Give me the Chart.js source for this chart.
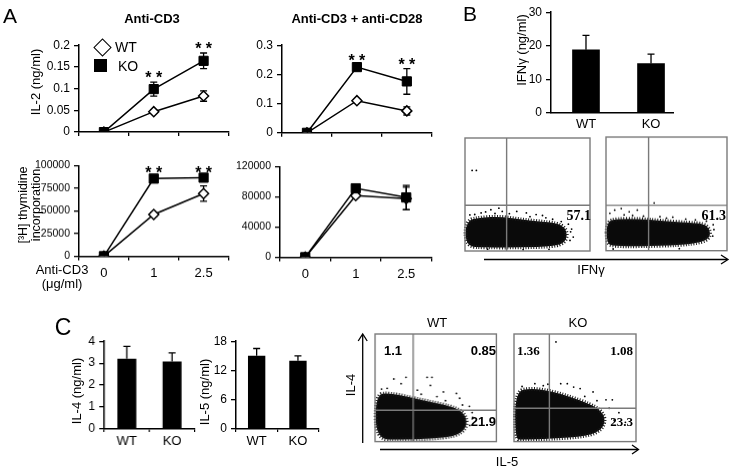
<!DOCTYPE html>
<html><head><meta charset="utf-8">
<script src="https://cdn.jsdelivr.net/npm/chart.js@4.4.1/dist/chart.umd.min.js"></script>
<style>
html,body{margin:0;padding:0;background:#fff;}
body{width:733px;height:468px;position:relative;overflow:hidden;font-family:"Liberation Sans",Arial,sans-serif;color:#000;}
.box{position:absolute;}
.t{position:absolute;transform:translate(-50%,-50%);white-space:nowrap;line-height:1;}
.tr{position:absolute;transform:translate(-100%,-50%);white-space:nowrap;line-height:1;}
.tl{position:absolute;transform:translate(0,-50%);white-space:nowrap;line-height:1;}
.r{position:absolute;transform:translate(-50%,-50%) rotate(-90deg);white-space:nowrap;line-height:1;}
.b{font-weight:bold;}
.serif{font-family:"Liberation Serif","Times New Roman",serif;font-weight:bold;}
</style></head><body>
<div id="charts"></div>
<svg width="733" height="468" style="position:absolute;left:0;top:0" fill="none" stroke="#000" stroke-width="1.3">
  <line x1="484" y1="259.5" x2="727" y2="259.5"/>
  <polyline points="721,255 728,259.5 721,264"/>
  <line x1="362.7" y1="443" x2="362.7" y2="335"/>
  <polyline points="358.2,341 362.7,334 367.2,341"/>
  <line x1="380" y1="449.5" x2="638" y2="449.5"/>
  <polyline points="632,445 638.5,449.5 632,454"/>
</svg>
<!-- Panel A texts -->
<div class="t" style="left:10px;top:15px;font-size:21px">A</div>
<div class="t b" style="left:152px;top:18px;font-size:13px">Anti-CD3</div>
<div class="t b" style="left:357px;top:18px;font-size:13px">Anti-CD3 + anti-CD28</div>
<div class="r" style="left:35px;top:82px;font-size:13px">IL-2 (ng/ml)</div>
<div style="position:absolute;left:96px;top:41px;width:11px;height:11px;border:1.5px solid #000;transform:rotate(45deg);background:#fff"></div>
<div class="tl" style="left:115px;top:47px;font-size:14px">WT</div>
<div style="position:absolute;left:94px;top:59px;width:13px;height:13px;background:#000"></div>
<div class="tl" style="left:118px;top:66px;font-size:14px">KO</div>
<div class="r" style="left:23px;top:205px;font-size:12.5px">[³H] thymidine</div>
<div class="r" style="left:36px;top:205px;font-size:12.5px">incorporation</div>
<div class="t" style="left:62px;top:269px;font-size:13px">Anti-CD3</div>
<div class="t" style="left:62px;top:283px;font-size:13px">(μg/ml)</div>
<!-- Panel B texts -->
<div class="t" style="left:470px;top:13px;font-size:21px">B</div>
<div class="r" style="left:521px;top:50px;font-size:13px">IFNγ (ng/ml)</div>
<div class="tr serif" style="left:591px;top:216px;font-size:14px">57.1</div>
<div class="tr serif" style="left:726px;top:216px;font-size:14px">61.3</div>
<div class="t" style="left:591px;top:269px;font-size:13px">IFNγ</div>
<!-- Panel C texts -->
<div class="t" style="left:63px;top:327px;font-size:23px">C</div>
<div class="r" style="left:76px;top:391px;font-size:13px">IL-4 (ng/ml)</div>
<div class="r" style="left:204px;top:392px;font-size:13px">IL-5 (ng/ml)</div>
<div class="t" style="left:437px;top:322px;font-size:13px">WT</div>
<div class="t" style="left:578px;top:322px;font-size:13px">KO</div>
<div class="r" style="left:350px;top:385px;font-size:13px">IL-4</div>
<div class="t" style="left:507px;top:461px;font-size:13px">IL-5</div>
<div class="t b" style="left:393px;top:350px;font-size:13px">1.1</div>
<div class="tr b" style="left:496px;top:350px;font-size:13px">0.85</div>
<div class="tr b" style="left:496px;top:421px;font-size:13px">21.9</div>
<div class="tl serif" style="left:517px;top:350px;font-size:13px">1.36</div>
<div class="tr serif" style="left:633px;top:350px;font-size:13px">1.08</div>
<div class="tr serif" style="left:633px;top:421px;font-size:13px">23.3</div>
<script>
// ---------- DATA ----------
const doseCats = ['0', '1', '2.5'];
const il2Cd3Ticks = [0, 0.05, 0.1, 0.15, 0.2];
const il2Cd28Ticks = [0, 0.1, 0.2, 0.3];
const thyCd3Ticks = [0, 25000, 50000, 75000, 100000];
const thyCd28Ticks = [0, 40000, 80000, 120000];

const il2Cd3WT = [0, 0.047, 0.083];
const il2Cd3WTErr = [0, 0.004, 0.012];
const il2Cd3KO = [0, 0.099, 0.164];
const il2Cd3KOErr = [0, 0.016, 0.018];
const il2Cd3Sig = ['', '**', '**'];

const il2Cd28WT = [0, 0.11, 0.075];
const il2Cd28WTErr = [0, 0.004, 0.014];
const il2Cd28KO = [0, 0.225, 0.176];
const il2Cd28KOErr = [0, 0.006, 0.044];
const il2Cd28Sig = ['', '**', '**'];

const thyCd3WT = [0, 46000, 69000];
const thyCd3WTErr = [0, 2500, 8500];
const thyCd3KO = [0, 85500, 86500];
const thyCd3KOErr = [0, 1500, 1000];
const thyCd3Sig = ['', '**', '**'];

const thyCd28WT = [0, 81500, 77500];
const thyCd28WTErr = [0, 2000, 15000];
const thyCd28KO = [0, 91000, 79000];
const thyCd28KOErr = [0, 1500, 16000];

const groups = ['WT', 'KO'];
const ifngTicks = [0, 10, 20, 30];
const ifngVals = [18.8, 14.7];
const ifngErr = [4.3, 2.8];
const il4Ticks = [0, 1, 2, 3, 4];
const il4Vals = [3.2, 3.07];
const il4Err = [0.56, 0.4];
const il5Ticks = [0, 6, 12, 18];
const il5Vals = [15.0, 14.0];
const il5Err = [1.5, 1.0];

// flow cytometry plots (arbitrary 0-100 units): gate positions, dense-cloud outlines, sparse events
const ifngWTGate = [33.3, 40.5];
const ifngWTCloud = [[0.5,27.1],[12.9,29.7],[28.4,30.5],[44.0,27.9],[59.5,26.2],[73.4,24.5],[79.6,21.1],[81.9,14.3],[79.6,7.4],[71.1,4.0],[44.0,3.2],[16.8,3.2],[0.5,4.0]];
const ifngWTDots = [[20.7,36.5],[27.1,37.9],[29.8,35.0],[41.4,35.0],[49.1,33.7],[56.9,32.2],[62.0,31.4],[64.7,29.4],[82.7,23.7],[85.3,19.4],[86.6,12.3],[84.0,9.4],[3.9,31.9],[12.9,33.7],[7.8,32.3],[18.1,1.6],[46.5,1.1],[67.2,1.5],[5.7,71.3],[9.1,71.3],[16.5,34.6],[24.0,33.2],[35.5,33.0],[52.0,30.4],[70.1,28.1],[77.0,26.0],[84.5,17.0]];
const ifngKOGate = [35.2, 40.0];
const ifngKOCloud = [[0.6,25.4],[8.6,28.0],[28.6,28.0],[44.6,26.3],[68.6,24.6],[80.6,23.7],[85.4,19.5],[86.2,12.6],[80.6,7.5],[60.6,4.9],[28.6,4.0],[6.2,4.0],[0.6,6.6]];
const ifngKODots = [[7.2,35.7],[12.6,37.2],[19.2,34.3],[25.9,35.7],[39.8,42.0],[44.6,30.0],[55.2,29.5],[65.9,27.8],[73.9,27.2],[88.6,22.9],[89.2,18.6],[88.2,12.9],[3.2,32.9],[60.6,1.8],[5.9,1.5],[15.0,31.5],[22.0,31.0],[31.0,30.4],[50.0,28.6],[83.0,26.0]];
const il45WTGate = [31.4, 29.2];
const il45WTCloud = [[0.6,44.0],[12.0,45.0],[29.5,41.0],[45.5,37.0],[61.7,33.0],[70.5,29.0],[75.5,22.0],[75.0,12.0],[66.0,5.0],[45.5,2.5],[21.4,2.0],[0.6,2.0]];
const il45WTDots = [[15.5,58.2],[25.5,59.7],[42.9,59.7],[46.9,59.7],[21.5,53.8],[45.6,52.2],[56.3,46.2],[67.0,44.8],[69.7,40.3],[51.0,41.8],[77.7,32.8],[80.4,22.4],[5.4,48.8],[34.9,47.8],[10.0,49.5],[38.0,44.0],[58.0,38.0],[72.0,34.0],[80.0,27.0],[78.0,15.0]];
const il45KOGate = [29.0, 31.0];
const il45KOCloud = [[1.0,47.0],[14.5,49.5],[30.4,47.0],[46.3,41.5],[62.1,35.0],[71.0,29.0],[75.0,21.0],[72.0,11.0],[60.0,5.0],[30.4,2.5],[6.6,2.0],[1.0,2.0]];
const il45KODots = [[34.4,92.6],[38.3,53.8],[43.7,53.8],[48.9,50.7],[54.2,49.3],[64.8,46.2],[75.4,38.8],[80.6,38.8],[86.0,26.9],[27.8,53.3],[17.1,53.8],[6.6,51.2],[91.3,17.9],[58.0,42.0],[68.0,38.0],[78.0,31.0],[82.0,20.0],[24.0,52.0]];

// ---------- HELPERS ----------
Chart.defaults.font.family = "'Liberation Sans', Arial, sans-serif";
Chart.defaults.color = '#000';
Chart.defaults.animation = false;

function val(d){ return (d !== null && typeof d === 'object') ? d.y : d; }

function drawErr(chart, mode){
  const ctx = chart.ctx, ys = chart.scales.y;
  chart.data.datasets.forEach((ds, i) => {
    if (!ds.errors) return;
    const meta = chart.getDatasetMeta(i);
    ctx.save(); ctx.strokeStyle = '#000'; ctx.lineWidth = 1.3;
    ds.data.forEach((d, j) => {
      const e = ds.errors[j]; if (!e) return;
      const v = val(d), x = meta.data[j].x;
      const yt = ys.getPixelForValue(v + e);
      const yb = mode === 'up' ? ys.getPixelForValue(v) : ys.getPixelForValue(v - e);
      const c = 3.5;
      ctx.beginPath();
      ctx.moveTo(x, yt); ctx.lineTo(x, yb);
      ctx.moveTo(x - c, yt); ctx.lineTo(x + c, yt);
      if (mode !== 'up') { ctx.moveTo(x - c, yb); ctx.lineTo(x + c, yb); }
      ctx.stroke();
    });
    ctx.restore();
  });
}
function drawStars(chart){
  const ctx = chart.ctx, ys = chart.scales.y;
  chart.data.datasets.forEach((ds, i) => {
    if (!ds.sig) return;
    const meta = chart.getDatasetMeta(i);
    ctx.save(); ctx.fillStyle = '#000'; ctx.font = 'bold 16px "Liberation Sans", Arial, sans-serif';
    ctx.textAlign = 'center'; ctx.textBaseline = 'alphabetic';
    ds.sig.forEach((s, j) => {
      if (!s) return;
      const e = ds.errors ? ds.errors[j] : 0;
      const y = ys.getPixelForValue(val(ds.data[j]) + e);
      ctx.fillText(s.split('').join(' '), meta.data[j].x, y + 1);
    });
    ctx.restore();
  });
}
const markPlugin = {
  id: 'marks',
  beforeDatasetsDraw(chart){ if (chart.config.type === 'line') drawErr(chart, 'both'); },
  afterDatasetsDraw(chart){ if (chart.config.type === 'bar') drawErr(chart, 'up'); drawStars(chart); }
};

function place(area, yW, xH, padT, padR){
  const left = area.l - yW, top = area.t - padT;
  const div = document.createElement('div');
  div.className = 'box';
  div.style.left = left + 'px'; div.style.top = top + 'px';
  div.style.width = (area.r + padR - left) + 'px';
  div.style.height = (area.b + xH - top) + 'px';
  const cv = document.createElement('canvas');
  div.appendChild(cv);
  document.getElementById('charts').appendChild(div);
  return cv;
}

function yScale(ticks, yW, fs){
  return {
    type: 'linear', min: ticks[0], max: ticks[ticks.length - 1],
    afterBuildTicks: s => { s.ticks = ticks.map(v => ({value: v})); },
    afterFit: s => { s.width = yW; },
    ticks: { font: {size: fs}, padding: 4, callback: v => String(v) },
    grid: { display: true, drawOnChartArea: false, drawTicks: true, tickLength: 5, color: '#000', lineWidth: 1.3 },
    border: { display: true, color: '#000', width: 1.5 }
  };
}

function lineChart(area, yW, xH, ticks, wt, wtErr, ko, koErr, sig, showX, fs){
  const cv = place(area, yW, xH, 8, 6);
  new Chart(cv, {
    type: 'line',
    data: {
      labels: doseCats,
      datasets: [
        { label: 'KO', data: ko, errors: koErr, sig: sig, borderColor: '#000', borderWidth: 1.5,
          pointStyle: 'rect', pointRadius: 6.5, pointBackgroundColor: '#000', pointBorderColor: '#000', pointBorderWidth: 1 },
        { label: 'WT', data: wt, errors: wtErr, borderColor: '#000', borderWidth: 1.5,
          pointStyle: 'rectRot', pointRadius: 5, pointBackgroundColor: '#fff', pointBorderColor: '#000', pointBorderWidth: 1.5 }
      ]
    },
    options: {
      responsive: true, maintainAspectRatio: false,
      layout: { padding: { top: 8, right: 6, left: 0, bottom: 0 } },
      plugins: { legend: { display: false }, tooltip: { enabled: false } },
      scales: {
        x: {
          type: 'category', offset: true,
          afterFit: s => { s.height = xH; },
          ticks: { display: showX, font: {size: 13}, padding: 5, maxRotation: 0 },
          grid: { display: true, offset: true, drawOnChartArea: false, drawTicks: true, tickLength: 4, color: '#000', lineWidth: 1.3 },
          border: { display: true, color: '#000', width: 1.5 }
        },
        y: yScale(ticks, yW, fs)
      }
    },
    plugins: [markPlugin]
  });
}

function barChart(area, yW, xH, ticks, vals, errs){
  const cv = place(area, yW, xH, 8, 6);
  new Chart(cv, {
    type: 'bar',
    data: { labels: groups, datasets: [{ data: vals, errors: errs, backgroundColor: '#000', borderWidth: 0,
      barPercentage: 0.42, categoryPercentage: 1 }] },
    options: {
      responsive: true, maintainAspectRatio: false,
      layout: { padding: { top: 8, right: 6, left: 0, bottom: 0 } },
      plugins: { legend: { display: false }, tooltip: { enabled: false } },
      scales: {
        x: {
          type: 'category', offset: true,
          afterFit: s => { s.height = xH; },
          ticks: { font: {size: 13}, padding: 2, maxRotation: 0 },
          grid: { display: true, offset: true, drawOnChartArea: false, drawTicks: true, tickLength: 3, color: '#000', lineWidth: 1.2 },
          border: { display: true, color: '#000', width: 1.5 }
        },
        y: yScale(ticks, yW, 12)
      }
    },
    plugins: [markPlugin]
  });
}

function barChartLinear(area, yW, xH, ticks, vals, errs, xmin, xmax, thick){
  const cv = place(area, yW, xH, 6, 6);
  new Chart(cv, {
    type: 'bar',
    data: { datasets: [{ data: groups.map((g, i) => ({x: i, y: vals[i]})), errors: errs,
      backgroundColor: '#000', borderWidth: 0, barThickness: thick }] },
    options: {
      responsive: true, maintainAspectRatio: false,
      layout: { padding: { top: 6, right: 6, left: 0, bottom: 0 } },
      plugins: { legend: { display: false }, tooltip: { enabled: false } },
      scales: {
        x: {
          type: 'linear', min: xmin, max: xmax, offset: false,
          afterBuildTicks: s => { s.ticks = groups.map((g, i) => ({value: i})); },
          afterFit: s => { s.height = xH; },
          ticks: { font: {size: 13}, padding: 4, maxRotation: 0, autoSkip: false, callback: (v, i) => groups[i] },
          grid: { display: false, offset: false, drawTicks: false, tickLength: 0 },
          border: { display: true, color: '#000', width: 1.5 }
        },
        y: yScale(ticks, yW, 12)
      }
    },
    plugins: [markPlugin]
  });
}

const flowPlugin = {
  id: 'flow',
  beforeDatasetsDraw(chart){
    const ctx = chart.ctx;
    chart.data.datasets.forEach((ds, i) => {
      if (!ds.cloud) return;
      const p = chart.getDatasetMeta(i).data.map(e => ({x: e.x, y: e.y}));
      const n = p.length, mid = (a, b) => ({x: (a.x + b.x) / 2, y: (a.y + b.y) / 2});
      ctx.save(); ctx.fillStyle = '#0a0a0a'; ctx.strokeStyle = '#1a1a1a';
      ctx.beginPath();
      let m = mid(p[n - 1], p[0]); ctx.moveTo(m.x, m.y);
      for (let k = 0; k < n; k++) { const q = mid(p[k], p[(k + 1) % n]); ctx.quadraticCurveTo(p[k].x, p[k].y, q.x, q.y); }
      ctx.closePath(); ctx.fill();
      ctx.lineWidth = 4; ctx.setLineDash([1, 1.6]); ctx.stroke();
      ctx.restore();
    });
  },
  afterDatasetsDraw(chart, args, opts){
    const ctx = chart.ctx, a = chart.chartArea;
    const gx = chart.scales.x.getPixelForValue(opts.gate[0]);
    const gy = chart.scales.y.getPixelForValue(opts.gate[1]);
    ctx.save(); ctx.strokeStyle = '#7a7a7a'; ctx.lineWidth = 1.4;
    ctx.beginPath();
    ctx.moveTo(gx, a.top); ctx.lineTo(gx, a.bottom);
    ctx.moveTo(a.left, gy); ctx.lineTo(a.right, gy);
    ctx.stroke();
    ctx.strokeRect(a.left, a.top, a.right - a.left, a.bottom - a.top);
    ctx.restore();
  }
};

function flowChart(area, gate, cloud, dots){
  const cv = place(area, 0, 0, 2, 2);
  cv.parentNode.style.left = (area.l - 2) + 'px';
  cv.parentNode.style.width = (area.r - area.l + 4) + 'px';
  cv.parentNode.style.height = (area.b - area.t + 4) + 'px';
  new Chart(cv, {
    type: 'scatter',
    data: { datasets: [
      { data: cloud.map(c => ({x: c[0], y: c[1]})), cloud: true, pointRadius: 0, showLine: false },
      { data: dots.map(c => ({x: c[0], y: c[1]})), pointRadius: 0.9, pointBackgroundColor: '#000', pointBorderWidth: 0 }
    ] },
    options: {
      responsive: true, maintainAspectRatio: false,
      layout: { padding: 2 },
      plugins: { legend: { display: false }, tooltip: { enabled: false }, flow: { gate: gate } },
      scales: {
        x: { type: 'linear', min: 0, max: 100, display: false },
        y: { type: 'linear', min: 0, max: 100, display: false }
      }
    },
    plugins: [flowPlugin]
  });
}

// ---------- CHARTS ----------
lineChart({l:79, t:41.7, r:230, b:137}, 45, 6, il2Cd3Ticks, il2Cd3WT, il2Cd3WTErr, il2Cd3KO, il2Cd3KOErr, il2Cd3Sig, false, 12);
lineChart({l:281.7, t:41.7, r:433, b:137.7}, 35, 6, il2Cd28Ticks, il2Cd28WT, il2Cd28WTErr, il2Cd28KO, il2Cd28KOErr, il2Cd28Sig, false, 12);
lineChart({l:79, t:163.3, r:230, b:255.7}, 48, 26, thyCd3Ticks, thyCd3WT, thyCd3WTErr, thyCd3KO, thyCd3KOErr, thyCd3Sig, true, 10.5);
lineChart({l:280, t:164.3, r:433, b:256.7}, 44, 26, thyCd28Ticks, thyCd28WT, thyCd28WTErr, thyCd28KO, thyCd28KOErr, null, true, 10.5);

barChartLinear({l:551, t:6.7, r:673, b:112.7}, 30, 22, ifngTicks, ifngVals, ifngErr, -0.538, 1.338, 27);
barChart({l:104.3, t:338.3, r:194, b:429.3}, 28, 20, il4Ticks, il4Vals, il4Err);
barChart({l:235.7, t:338.3, r:318.3, b:429.3}, 28, 20, il5Ticks, il5Vals, il5Err);

flowChart({l:463.3, t:135.7, r:592.3, b:252.7}, ifngWTGate, ifngWTCloud, ifngWTDots);
flowChart({l:604.3, t:135, r:729.3, b:251.7}, ifngKOGate, ifngKOCloud, ifngKODots);
flowChart({l:373.3, t:331.7, r:497.7, b:443.3}, il45WTGate, il45WTCloud, il45WTDots);
flowChart({l:511.7, t:331.7, r:637.7, b:443.3}, il45KOGate, il45KOCloud, il45KODots);
</script>
</body></html>
